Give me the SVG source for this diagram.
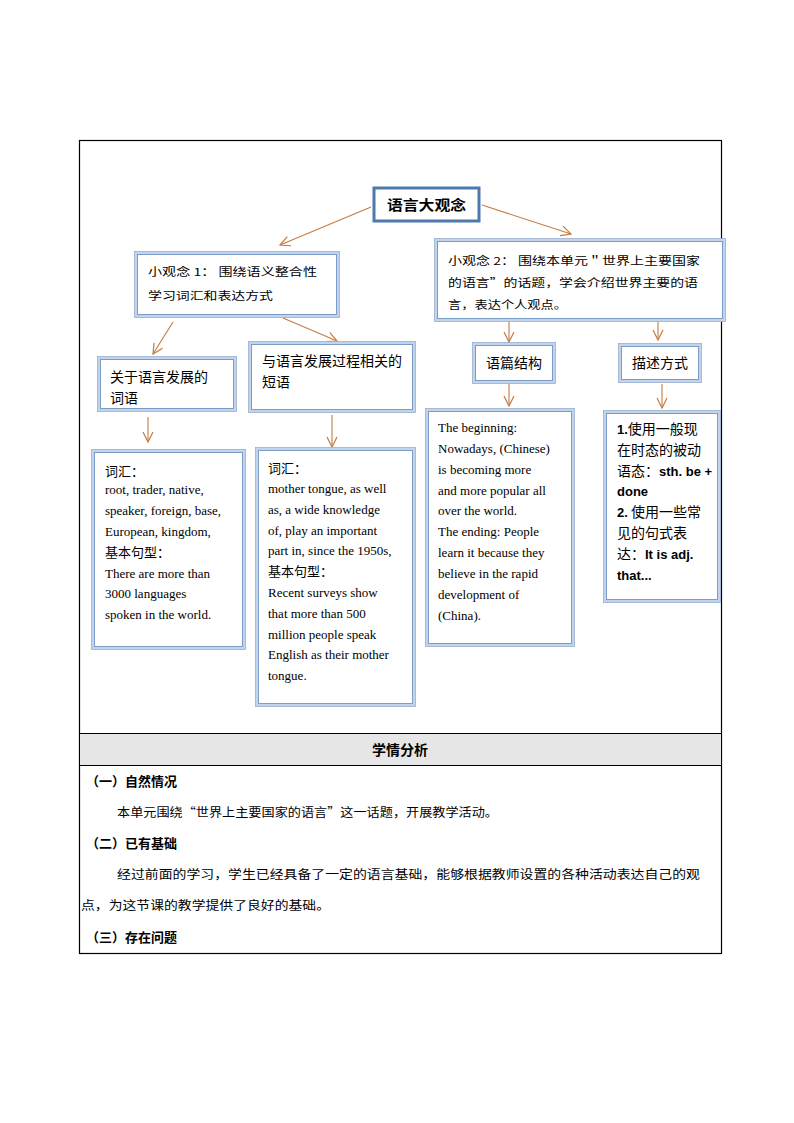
<svg xmlns="http://www.w3.org/2000/svg" width="794" height="1123" viewBox="0 0 794 1123">
<defs>
<marker id="ah" viewBox="0 0 12 12" refX="11" refY="6" markerWidth="12" markerHeight="12" markerUnits="userSpaceOnUse" orient="auto">
<path d="M1,1 L11,6 L1,11" fill="none" stroke="#c47b42" stroke-width="1.2"/>
</marker>
<style>
.frame{fill:none;stroke:#000;stroke-width:1.2}
.nb{fill:#fff;stroke:#c3d4ea;stroke-width:3}
.nbo{fill:none;stroke:#97b0d2;stroke-width:0.8}
.nbi{fill:none;stroke:#7196c6;stroke-width:0.9}
.top{fill:#fff;stroke:#4d79ad;stroke-width:3}
.conn{stroke:#c47b42;stroke-width:1.1;fill:none;marker-end:url(#ah)}
.cn{font-family:"Noto Sans CJK SC","Noto Sans",sans-serif;fill:#000}
.sm{font-family:"Noto Sans CJK SC",sans-serif;font-size:11px;fill:#000}
.en{font-family:"Liberation Serif","Noto Sans CJK SC",serif;font-size:13px;fill:#000}
.bd{font-family:"Liberation Sans","Noto Sans CJK SC",sans-serif;font-size:13px;font-weight:bold;fill:#000}
</style>
</defs>
<rect width="794" height="1123" fill="#fff"/>
<g id="table">
<rect x="79.5" y="140.5" width="642" height="813" class="frame"/>
<rect x="80" y="734" width="641" height="31" fill="#e6e6e6"/>
<line x1="79.5" y1="733.5" x2="721.5" y2="733.5" stroke="#000" stroke-width="1.2"/>
<line x1="79.5" y1="765.5" x2="721.5" y2="765.5" stroke="#000" stroke-width="1.2"/>
<text x="400" y="755" text-anchor="middle" class="cn" font-size="14" font-weight="bold">学情分析</text>
<text x="86" y="786" class="cn" font-size="13" font-weight="bold">（一）自然情况</text>
<text x="117" y="817" class="cn" font-size="12" textLength="381" lengthAdjust="spacingAndGlyphs">本单元围绕“世界上主要国家的语言”这一话题，开展教学活动。</text>
<text x="86" y="848" class="cn" font-size="13" font-weight="bold">（二）已有基础</text>
<text x="117" y="879" class="cn" font-size="12" textLength="583" lengthAdjust="spacingAndGlyphs">经过前面的学习，学生已经具备了一定的语言基础，能够根据教师设置的各种活动表达自己的观</text>
<text x="81" y="910" class="cn" font-size="12" textLength="249" lengthAdjust="spacingAndGlyphs">点，为这节课的教学提供了良好的基础。</text>
<text x="86" y="942" class="cn" font-size="13" font-weight="bold">（三）存在问题</text>
</g>
<g id="connectors">
<line x1="371" y1="207" x2="280" y2="245" class="conn"/>
<line x1="482" y1="205" x2="571" y2="234" class="conn"/>
<line x1="173" y1="322" x2="153" y2="354" class="conn"/>
<line x1="283" y1="318" x2="337" y2="341" class="conn"/>
<line x1="509" y1="321" x2="509" y2="342" class="conn"/>
<line x1="658" y1="321" x2="658" y2="340" class="conn"/>
<line x1="509" y1="384" x2="509" y2="406" class="conn"/>
<line x1="662" y1="384" x2="662" y2="408" class="conn"/>
<line x1="148" y1="417" x2="148" y2="442" class="conn"/>
<line x1="332" y1="415" x2="332" y2="447" class="conn"/>
</g>
<g id="n-top">
<rect x="374" y="188" width="105" height="33" class="top"/>
<text x="387" y="210" class="cn" font-size="14" font-weight="bold" textLength="79" lengthAdjust="spacingAndGlyphs">语言大观念</text>
</g>
<g id="n-sub1">
<rect x="136" y="253" width="202" height="63" class="nb"/>
<rect x="134.5" y="251.5" width="205" height="66" class="nbo"/>
<rect x="137.5" y="254.5" width="199" height="60" class="nbi"/>
<text x="148" y="276" class="sm" textLength="169" lengthAdjust="spacingAndGlyphs">小观念 1：  围绕语义整合性</text>
<text x="148" y="300" class="sm" textLength="125" lengthAdjust="spacingAndGlyphs">学习词汇和表达方式</text>
</g>
<g id="n-sub2">
<rect x="436" y="240" width="288" height="80" class="nb"/>
<rect x="434.5" y="238.5" width="291" height="83" class="nbo"/>
<rect x="437.5" y="241.5" width="285" height="77" class="nbi"/>
<text x="448" y="265" class="sm" textLength="252" lengthAdjust="spacingAndGlyphs">小观念 2：  围绕本单元＂世界上主要国家</text>
<text x="448" y="287" class="sm" textLength="250" lengthAdjust="spacingAndGlyphs">的语言”的话题，学会介绍世界主要的语</text>
<text x="448" y="309" class="sm" textLength="119" lengthAdjust="spacingAndGlyphs">言，表达个人观点。</text>
</g>
<g id="n-words">
<rect x="99" y="358" width="136" height="52" class="nb"/>
<rect x="97.5" y="356.5" width="139" height="55" class="nbo"/>
<rect x="100.5" y="359.5" width="133" height="49" class="nbi"/>
<text x="110" y="382" class="cn" font-size="14">关于语言发展的</text>
<text x="110" y="403" class="cn" font-size="14">词语</text>
</g>
<g id="n-phrases">
<rect x="250" y="343" width="164" height="68" class="nb"/>
<rect x="248.5" y="341.5" width="167" height="71" class="nbo"/>
<rect x="251.5" y="344.5" width="161" height="65" class="nbi"/>
<text x="262" y="366" class="cn" font-size="14">与语言发展过程相关的</text>
<text x="262" y="387" class="cn" font-size="14">短语</text>
</g>
<g id="n-structure">
<rect x="474" y="344" width="80" height="38" class="nb"/>
<rect x="472.5" y="342.5" width="83" height="41" class="nbo"/>
<rect x="475.5" y="345.5" width="77" height="35" class="nbi"/>
<text x="514" y="368" text-anchor="middle" class="cn" font-size="14">语篇结构</text>
</g>
<g id="n-expression">
<rect x="620" y="345" width="80" height="36" class="nb"/>
<rect x="618.5" y="343.5" width="83" height="39" class="nbo"/>
<rect x="621.5" y="346.5" width="77" height="33" class="nbi"/>
<text x="660" y="368" text-anchor="middle" class="cn" font-size="14">描述方式</text>
</g>
<g id="n-vocab1">
<rect x="93" y="451" width="151" height="197" class="nb"/>
<rect x="91.5" y="449.5" width="154" height="200" class="nbo"/>
<rect x="94.5" y="452.5" width="148" height="194" class="nbi"/>
<text x="105" y="476" class="cn" font-size="13">词汇：</text>
<text x="105" y="494" class="en">root, trader, native,</text>
<text x="105" y="515" class="en">speaker, foreign, base,</text>
<text x="105" y="536" class="en">European, kingdom,</text>
<text x="105" y="557" class="cn" font-size="13">基本句型：</text>
<text x="105" y="578" class="en">There are more than</text>
<text x="105" y="598" class="en">3000 languages</text>
<text x="105" y="619" class="en">spoken in the world.</text>
</g>
<g id="n-vocab2">
<rect x="257" y="449" width="157" height="256" class="nb"/>
<rect x="255.5" y="447.5" width="160" height="259" class="nbo"/>
<rect x="258.5" y="450.5" width="154" height="253" class="nbi"/>
<text x="268" y="473" class="cn" font-size="13">词汇：</text>
<text x="268" y="493" class="en">mother tongue, as well</text>
<text x="268" y="514" class="en">as, a wide knowledge</text>
<text x="268" y="535" class="en">of, play an important</text>
<text x="268" y="555" class="en">part in, since the 1950s,</text>
<text x="268" y="576" class="cn" font-size="13">基本句型：</text>
<text x="268" y="597" class="en">Recent surveys show</text>
<text x="268" y="618" class="en">that more than 500</text>
<text x="268" y="639" class="en">million  people speak</text>
<text x="268" y="659" class="en">English as their mother</text>
<text x="268" y="680" class="en">tongue.</text>
</g>
<g id="n-structure-text">
<rect x="427" y="410" width="146" height="235" class="nb"/>
<rect x="425.5" y="408.5" width="149" height="238" class="nbo"/>
<rect x="428.5" y="411.5" width="143" height="232" class="nbi"/>
<text x="438" y="432" class="en">The beginning:</text>
<text x="438" y="453" class="en">Nowadays, (Chinese)</text>
<text x="438" y="474" class="en">is becoming more</text>
<text x="438" y="495" class="en">and more popular all</text>
<text x="438" y="515" class="en">over the world.</text>
<text x="438" y="536" class="en">The ending: People</text>
<text x="438" y="557" class="en">learn it because they</text>
<text x="438" y="578" class="en">believe in the rapid</text>
<text x="438" y="599" class="en">development of</text>
<text x="438" y="620" class="en">(China).</text>
</g>
<g id="n-expression-text">
<rect x="605" y="412" width="114" height="189" class="nb"/>
<rect x="603.5" y="410.5" width="117" height="192" class="nbo"/>
<rect x="606.5" y="413.5" width="111" height="186" class="nbi"/>
<text x="617" y="434" class="cn" font-size="14"><tspan class="bd" font-size="13">1.</tspan>使用一般现</text>
<text x="617" y="455" class="cn" font-size="14">在时态的被动</text>
<text x="617" y="476" class="cn" font-size="14">语态：<tspan class="bd">sth. be +</tspan></text>
<text x="617" y="496" class="bd">done</text>
<text x="617" y="517" class="cn" font-size="14"><tspan class="bd" font-size="13">2.</tspan> 使用一些常</text>
<text x="617" y="538" class="cn" font-size="14">见的句式表</text>
<text x="617" y="559" class="cn" font-size="14">达：<tspan class="bd">It is adj.</tspan></text>
<text x="617" y="580" class="bd">that...</text>
</g>
</svg>
